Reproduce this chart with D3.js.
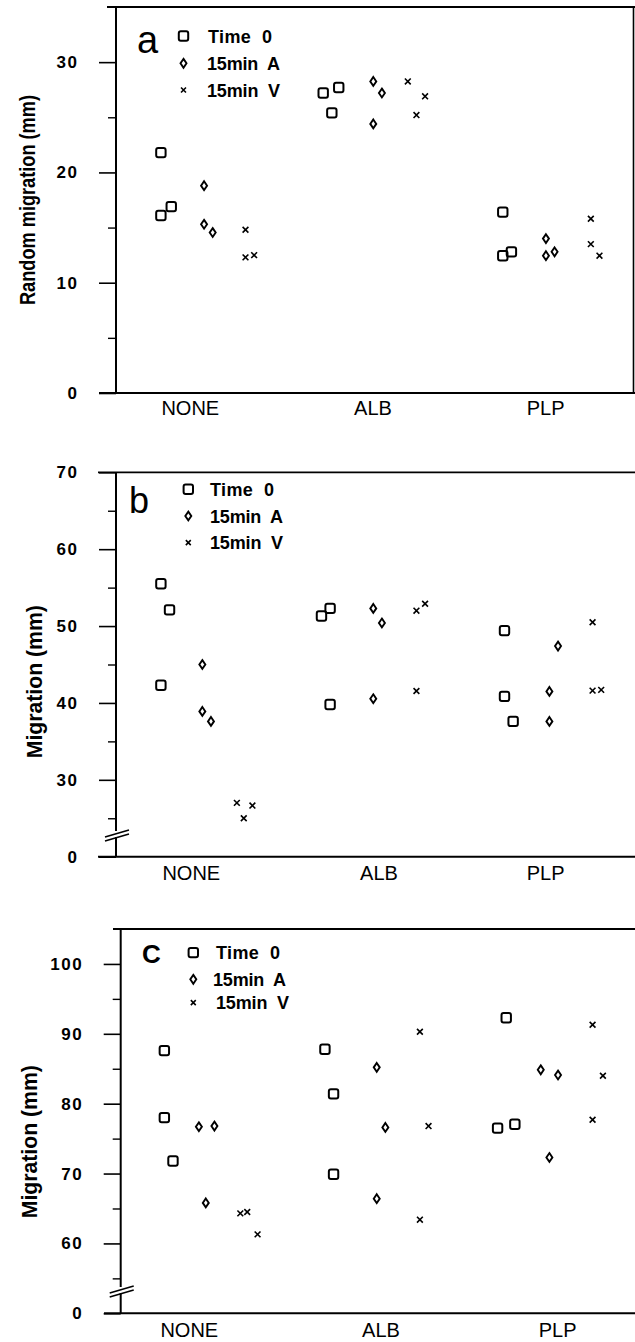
<!DOCTYPE html>
<html><head><meta charset="utf-8">
<script src="https://cdn.jsdelivr.net/npm/d3@7"></script>
<style>html,body{margin:0;padding:0;background:#fff}svg{display:block}</style>
</head><body>
<svg id="chart" width="635" height="1342"></svg>
<script>
// ---------- data ----------
const categories = ["NONE", "ALB", "PLP"];
const seriesNames = ["Time 0", "15min A", "15min V"];

// panel a  : [x position on category axis (0..3), migration mm]
const aTicks = [0, 10, 20, 30];
const aMinor = [5, 15, 25];
const aTime0 = [[0.26,21.8],[0.26,16.1],[0.32,16.9],[1.20,27.2],[1.29,27.7],[1.25,25.4],[2.24,16.4],[2.24,12.45],[2.29,12.8]];
const aMinA  = [[0.51,18.8],[0.51,15.3],[0.56,14.55],[1.49,28.25],[1.54,27.2],[1.49,24.4],[2.49,14.0],[2.49,12.45],[2.54,12.8]];
const aMinV  = [[0.75,14.8],[0.75,12.3],[0.80,12.5],[1.69,28.25],[1.79,26.9],[1.74,25.2],[2.75,15.8],[2.75,13.5],[2.80,12.45]];

// panel b
const bTicks = [20, 30, 40, 50, 60, 70];
const bMinor = [25, 35, 45, 55, 65];
const bTime0 = [[0.26,55.5],[0.31,52.1],[0.26,42.3],[1.19,51.3],[1.24,52.3],[1.24,39.8],[2.25,49.4],[2.25,40.85],[2.30,37.6]];
const bMinA  = [[0.50,45.0],[0.50,38.9],[0.55,37.6],[1.49,52.3],[1.54,50.4],[1.49,40.55],[2.56,47.4],[2.51,41.5],[2.51,37.6]];
const bMinV  = [[0.70,27.0],[0.74,25.0],[0.79,26.65],[1.74,52.0],[1.79,52.9],[1.74,41.55],[2.76,50.5],[2.76,41.6],[2.81,41.7]];

// panel c
const cTicks = [50, 60, 70, 80, 90, 100];
const cMinor = [55, 65, 75, 85, 95];
const cTime0 = [[0.28,87.6],[0.28,78.0],[0.33,71.8],[1.21,87.8],[1.26,81.4],[1.26,69.9],[2.26,92.3],[2.21,76.5],[2.31,77.05]];
const cMinA  = [[0.48,76.7],[0.57,76.8],[0.52,65.8],[1.51,85.2],[1.56,76.6],[1.51,66.4],[2.46,84.85],[2.56,84.1],[2.51,72.3]];
const cMinV  = [[0.72,64.3],[0.76,64.5],[0.82,61.3],[1.76,90.3],[1.81,76.8],[1.76,63.4],[2.76,91.3],[2.82,84.0],[2.76,77.7]];

// ---------- layout ----------
const panels = [
  { letter: "a", letterSize: 38, letterWeight: "normal", letterX: 137, letterY: 52.5,
    yLabel: "Random migration (mm)", yLabelLen: 210, yLabelX: 35, yLabelY: 200,
    domain: [0, 35], range: [393, 7], ticks: aTicks, minor: aMinor,
    series: [aTime0, aMinA, aMinV], axisX: 116, labelRight: 77,
    bottomX0: 99, topX0: 107, rightBorder: true, breakY: null,
    legX: 183.5, legTextX: [208, 207, 207], legY: [42.7, 70, 96.7],
    catShift: [-12, -2, -2], catY: 415 },
  { letter: "b", letterSize: 36, letterWeight: "normal", letterX: 129, letterY: 513,
    yLabel: "Migration (mm)", yLabelLen: 153, yLabelX: 42, yLabelY: 681.7,
    domain: [20, 70], range: [856.7, 472.3], ticks: bTicks, minor: bMinor,
    series: [bTime0, bMinA, bMinV], axisX: 116, labelRight: 77,
    bottomX0: 98, topX0: 98, rightBorder: false, breakY: 837,
    legX: 188.3, legTextX: [210, 210, 210], legY: [496, 522.7, 549.3],
    catShift: [-11, 4, -2], catY: 880 },
  { letter: "C", letterSize: 26, letterWeight: "bold", letterX: 142, letterY: 963.3,
    yLabel: "Migration (mm)", yLabelLen: 153, yLabelX: 37, yLabelY: 1141.7,
    domain: [50, 105], range: [1313.3, 929], ticks: cTicks, minor: cMinor,
    series: [cTime0, cMinA, cMinV], axisX: 120.7, labelRight: 81.7,
    bottomX0: 104, topX0: 113, rightBorder: false, breakY: 1293,
    legX: 193.3, legTextX: [216, 213, 216], legY: [959.3, 986, 1009.3],
    catShift: [-13, 6, 10], catY: 1337 }
];

const FONT = "'Liberation Sans', Arial, Helvetica, sans-serif";
const svg = d3.select("#chart");
svg.append("rect").attr("width", 635).attr("height", 1342).attr("fill", "#fff");

function drawMarker(sel, kind, cx, cy, s) {
  s = s || 1;
  if (kind === 0) {
    sel.append("rect").attr("x", cx - 4.7 * s).attr("y", cy - 4.7 * s)
      .attr("width", 9.4 * s).attr("height", 9.4 * s).attr("rx", 2)
      .attr("fill", "none").attr("stroke", "#000").attr("stroke-width", 2);
  } else if (kind === 1) {
    const w = 3 * s, h = 4.4 * s;
    sel.append("path")
      .attr("d", `M${cx},${cy - h}L${cx + w},${cy}L${cx},${cy + h}L${cx - w},${cy}Z`)
      .attr("fill", "none").attr("stroke", "#000").attr("stroke-width", 1.9);
  } else {
    const r = 2.9 * s;
    sel.append("path")
      .attr("d", `M${cx - r},${cy - r}L${cx + r},${cy + r}M${cx - r},${cy + r}L${cx + r},${cy - r}`)
      .attr("fill", "none").attr("stroke", "#000").attr("stroke-width", 1.6);
  }
}

panels.forEach(p => {
  const g = svg.append("g");
  const x = d3.scaleLinear().domain([0, 3]).range([116, 634]);
  const y = d3.scaleLinear().domain(p.domain).range(p.range);
  const y0 = y(p.domain[0]), y1 = y(p.domain[1]);

  // major ticks
  const major = g.append("g").attr("transform", `translate(${p.axisX},0)`)
    .call(d3.axisLeft(y).tickValues(p.ticks).tickSize(17)
      .tickPadding(p.axisX - 17 - p.labelRight)
      .tickFormat(d => d === p.domain[0] ? "0" : String(d)));
  major.attr("font-size", 17).attr("font-family", FONT).attr("font-weight", "bold");
  major.select(".domain").remove();
  major.selectAll(".tick line").attr("stroke", "#000").attr("stroke-width", 1.6);
  major.selectAll(".tick text").attr("fill", "#000")
    .attr("font-size", 17).attr("font-weight", "bold").attr("font-family", FONT)
    .attr("letter-spacing", "1.5px").attr("dx", "1.5px");

  // minor ticks
  const minor = g.append("g").attr("transform", `translate(${p.axisX},0)`)
    .call(d3.axisLeft(y).tickValues(p.minor).tickSize(8).tickFormat(""));
  minor.select(".domain").remove();
  minor.selectAll(".tick line").attr("stroke", "#000").attr("stroke-width", 1.4);

  // frame lines
  const line = (x1, ya, x2, yb, w) => g.append("line")
    .attr("x1", x1).attr("y1", ya).attr("x2", x2).attr("y2", yb)
    .attr("stroke", "#000").attr("stroke-width", w || 2);
  line(p.axisX, y1, p.axisX, y0, 2);
  line(p.bottomX0, y0, 635, y0, 2);
  line(p.topX0, y1, 635, y1, 1.8);
  if (p.rightBorder) line(633.5, y1, 633.5, y0, 1.6);

  if (p.breakY !== null) {
    const by = p.breakY;
    g.append("rect").attr("x", p.axisX - 3).attr("y", by - 6).attr("width", 6).attr("height", 6).attr("fill", "#fff");
    line(p.axisX - 11, by - 0, p.axisX + 13, by - 7, 1.6);
    line(p.axisX - 11, by + 4, p.axisX + 13, by - 3, 1.6);
  }

  // points
  p.series.forEach((pts, si) => {
    const sg = g.append("g");
    pts.forEach(d => drawMarker(sg, si, x(d[0]), y(d[1]), 1));
  });

  // legend
  seriesNames.forEach((name, i) => {
    drawMarker(g, i, p.legX, p.legY[i] - 6.7, i === 2 ? 0.85 : 1);
    g.append("text").attr("x", p.legTextX[i]).attr("y", p.legY[i])
      .attr("fill", "#000").attr("font-family", FONT).attr("font-size", 18)
      .attr("font-weight", "bold").attr("xml:space", "preserve")
      .attr("textLength", i === 0 ? 64 : 73).attr("lengthAdjust", "spacing")
      .text(name.replace(" ", "  "));
  });

  // panel letter
  g.append("text").attr("x", p.letterX).attr("y", p.letterY).attr("fill", "#000")
    .attr("font-family", FONT).attr("font-size", p.letterSize)
    .attr("font-weight", p.letterWeight).text(p.letter);

  // category labels
  categories.forEach((c, i) => {
    g.append("text").attr("x", x(i + 0.5) + p.catShift[i]).attr("y", p.catY)
      .attr("text-anchor", "middle").attr("fill", "#000")
      .attr("font-family", FONT).attr("font-size", 20).text(c);
  });

  // y axis label
  g.append("text").attr("transform", `translate(${p.yLabelX},${p.yLabelY}) rotate(-90)`)
    .attr("text-anchor", "middle").attr("fill", "#000")
    .attr("font-family", FONT).attr("font-size", 22).attr("font-weight", "bold")
    .attr("textLength", p.yLabelLen).attr("lengthAdjust", "spacingAndGlyphs")
    .text(p.yLabel);
});
</script>
</body></html>
